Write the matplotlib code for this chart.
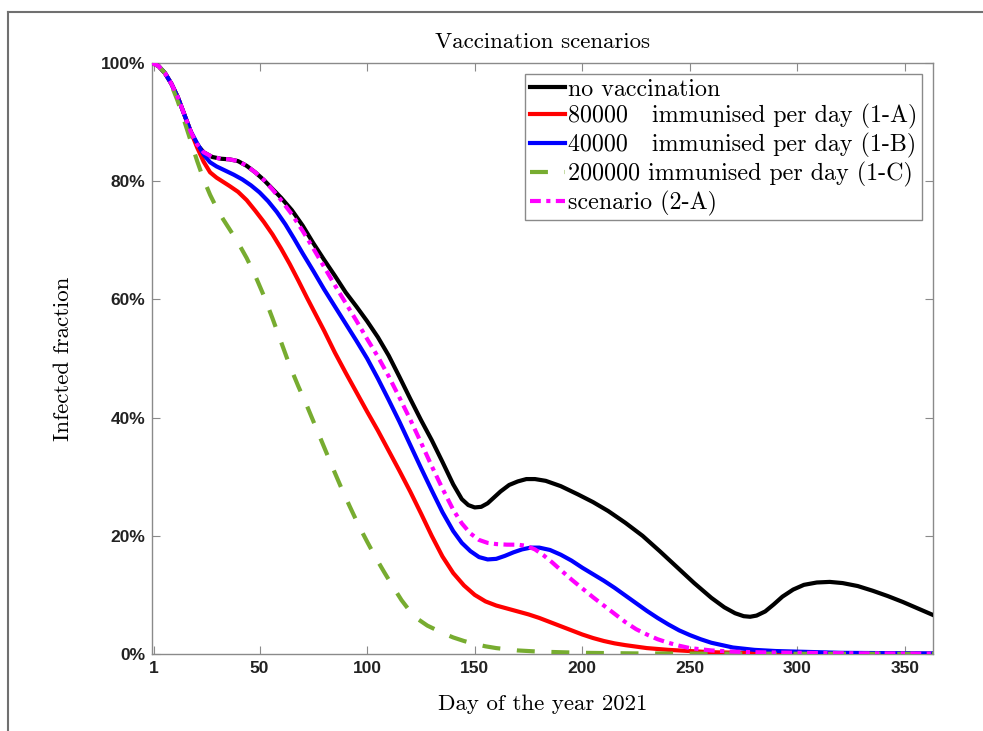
import matplotlib
matplotlib.use("Agg")
import matplotlib.pyplot as plt
from matplotlib.lines import Line2D
from matplotlib.ticker import FuncFormatter

# ---------------- data ----------------
day_black = [0, 3, 6, 9, 12, 15, 18, 21, 24, 28, 32, 36, 40, 44, 48, 52, 56, 60, 65, 70, 75,
             80, 85, 90, 95, 100, 105, 110, 115, 120, 125, 130, 135, 140, 144, 147, 150, 153,
             156, 159, 162, 166, 170, 174, 178, 183, 190, 198, 205, 212, 220, 228, 236, 244,
             252, 260, 266, 271, 275, 278, 281, 285, 289, 293, 298, 303, 309, 315, 321, 328,
             335, 342, 349, 356, 363]
val_black = [1.0, 0.995, 0.983, 0.965, 0.942, 0.913, 0.884, 0.862, 0.849, 0.841, 0.838, 0.837,
             0.834, 0.826, 0.815, 0.802, 0.787, 0.772, 0.751, 0.725, 0.695, 0.667, 0.640, 0.612,
             0.588, 0.563, 0.536, 0.505, 0.469, 0.432, 0.396, 0.362, 0.325, 0.287, 0.262, 0.252,
             0.248, 0.249, 0.255, 0.265, 0.275, 0.286, 0.292, 0.296, 0.296, 0.293, 0.284, 0.270,
             0.257, 0.242, 0.222, 0.200, 0.174, 0.147, 0.120, 0.095, 0.079, 0.069, 0.064, 0.063,
             0.065, 0.072, 0.084, 0.097, 0.109, 0.117, 0.121, 0.122, 0.120, 0.115, 0.107, 0.098,
             0.088, 0.077, 0.066]

day_red = [0, 3, 6, 9, 12, 15, 18, 21, 24, 27, 30, 33, 36, 40, 44, 48, 52, 56, 60, 64, 68, 72,
           76, 80, 85, 90, 95, 100, 105, 110, 115, 120, 125, 130, 135, 140, 145, 150, 155, 160,
           165, 170, 175, 180, 185, 190, 195, 200, 205, 210, 215, 220, 230, 240, 250, 260, 280,
           300, 330, 363]
val_red = [1.0, 0.995, 0.983, 0.965, 0.942, 0.913, 0.884, 0.857, 0.833, 0.815, 0.806, 0.799,
           0.792, 0.782, 0.768, 0.750, 0.731, 0.710, 0.686, 0.660, 0.632, 0.603, 0.575, 0.547,
           0.510, 0.476, 0.443, 0.410, 0.378, 0.344, 0.310, 0.275, 0.238, 0.200, 0.165, 0.137,
           0.116, 0.100, 0.089, 0.082, 0.077, 0.072, 0.067, 0.061, 0.054, 0.047, 0.040, 0.033,
           0.027, 0.022, 0.018, 0.015, 0.010, 0.007, 0.005, 0.003, 0.0015, 0.001, 0.0005, 0.0003]

day_blue = [0, 3, 6, 9, 12, 15, 18, 21, 24, 27, 30, 34, 38, 42, 46, 50, 54, 58, 62, 66, 70, 75,
            80, 85, 90, 95, 100, 105, 110, 115, 120, 125, 130, 135, 140, 144, 148, 152, 156,
            160, 164, 168, 172, 176, 180, 185, 190, 195, 200, 205, 210, 215, 220, 225, 230,
            235, 240, 245, 250, 255, 260, 265, 270, 280, 290, 300, 320, 340, 363]
val_blue = [1.0, 0.995, 0.983, 0.965, 0.942, 0.913, 0.884, 0.864, 0.845, 0.832, 0.825, 0.818,
            0.811, 0.803, 0.793, 0.781, 0.766, 0.748, 0.727, 0.703, 0.678, 0.648, 0.617, 0.588,
            0.559, 0.530, 0.500, 0.466, 0.430, 0.393, 0.354, 0.315, 0.277, 0.240, 0.208, 0.188,
            0.174, 0.164, 0.160, 0.161, 0.166, 0.172, 0.177, 0.180, 0.180, 0.176, 0.168, 0.158,
            0.146, 0.135, 0.124, 0.112, 0.099, 0.086, 0.073, 0.061, 0.050, 0.040, 0.032, 0.025,
            0.019, 0.015, 0.011, 0.007, 0.005, 0.004, 0.002, 0.0015, 0.001]

day_green = [0, 3, 6, 9, 12, 15, 18, 21, 24, 27, 30, 33, 36, 40, 44, 48, 52, 56, 60, 64, 68,
             72, 76, 80, 84, 88, 92, 96, 100, 104, 108, 112, 116, 120, 124, 128, 132, 136, 140,
             145, 150, 155, 160, 165, 170, 180, 190, 200, 225, 250, 300, 363]
val_green = [1.0, 0.995, 0.983, 0.963, 0.935, 0.902, 0.868, 0.834, 0.803, 0.777, 0.755, 0.736,
             0.719, 0.696, 0.670, 0.640, 0.606, 0.568, 0.528, 0.488, 0.453, 0.420, 0.385, 0.350,
             0.315, 0.281, 0.249, 0.218, 0.190, 0.163, 0.138, 0.114, 0.091, 0.072, 0.058, 0.048,
             0.041, 0.034, 0.028, 0.022, 0.017, 0.013, 0.010, 0.008, 0.006, 0.004, 0.003, 0.002,
             0.001, 0.0007, 0.0004, 0.0002]

day_mag = [0, 3, 6, 9, 12, 15, 18, 21, 24, 28, 32, 36, 40, 44, 48, 52, 56, 60, 65, 70, 75, 80,
           85, 90, 95, 100, 105, 110, 115, 120, 125, 130, 135, 140, 144, 148, 152, 156, 160,
           165, 170, 174, 178, 182, 186, 190, 195, 200, 205, 210, 215, 220, 225, 230, 235, 240,
           245, 250, 255, 260, 270, 280, 300, 330, 363]
val_mag = [1.0, 0.995, 0.983, 0.965, 0.942, 0.913, 0.884, 0.862, 0.849, 0.841, 0.838, 0.837,
           0.834, 0.826, 0.815, 0.802, 0.786, 0.768, 0.744, 0.716, 0.686, 0.655, 0.624, 0.594,
           0.564, 0.533, 0.503, 0.470, 0.434, 0.397, 0.358, 0.318, 0.280, 0.244, 0.221, 0.204,
           0.193, 0.188, 0.186, 0.185, 0.185, 0.183, 0.177, 0.167, 0.155, 0.142, 0.126, 0.111,
           0.096, 0.082, 0.068, 0.054, 0.042, 0.033, 0.025, 0.019, 0.014, 0.010, 0.008, 0.006,
           0.004, 0.003, 0.002, 0.001, 0.0005]

labels = ["no vaccination",
          "80000   immunised per day (1-A)",
          "40000   immunised per day (1-B)",
          "200000 immunised per day (1-C)",
          "scenario (2-A)"]
xticks = [1, 50, 100, 150, 200, 250, 300, 350]
yticks = [0, 0.2, 0.4, 0.6, 0.8, 1.0]

title_text = "Vaccination scenarios"
xlabel_text = "Day of the year 2021"
ylabel_text = "Infected fraction"

# ---------------- styling ----------------
serif = ["cmr10", "DejaVu Serif"]
tick_family = ["Liberation Sans"]

fig = plt.figure(figsize=(9.83, 7.31), dpi=100)
ax = fig.add_axes([152 / 983, 1 - 654 / 731, (933 - 152) / 983, (654 - 63) / 731])

lw = 3.0
ax.plot(day_black, val_black, color="black", lw=lw, label=labels[0], zorder=3,
        solid_joinstyle="round")
ax.plot(day_red, val_red, color="#ff0000", lw=lw, label=labels[1], zorder=3,
        solid_joinstyle="round")
ax.plot(day_blue, val_blue, color="#0000ff", lw=lw, label=labels[2], zorder=3,
        solid_joinstyle="round")
ax.plot(day_green, val_green, color="#77ac30", lw=lw, ls=(0, (4.3, 4.0)), label=labels[3],
        zorder=4)
ax.plot(day_mag, val_mag, color="#ff00ff", lw=lw, ls=(0, (2.6, 1.3, 1.0, 1.3)),
        label=labels[4], zorder=5)

ax.set_xlim(0, 363)
ax.set_ylim(0, 1)
ax.set_xticks(xticks)
ax.set_yticks(yticks)
ax.yaxis.set_major_formatter(FuncFormatter(lambda v, p: f"{int(round(v * 100))}%"))

for s in ax.spines.values():
    s.set_color("#8a8a8a")
    s.set_linewidth(1.0)
ax.tick_params(direction="in", length=6, width=0.8, color="#8a8a8a",
               top=True, right=True, labelsize=12.5, labelcolor="#222222", pad=5)
for lab in ax.get_xticklabels() + ax.get_yticklabels():
    lab.set_fontfamily(tick_family)
    lab.set_fontweight("bold")

ax.set_title(title_text, fontfamily=serif, fontsize=16.5, pad=11)
ax.set_xlabel(xlabel_text, fontfamily=serif, fontsize=16.5, labelpad=13)
ax.set_ylabel(ylabel_text, fontfamily=serif, fontsize=16.5, labelpad=20)

leg = ax.legend(loc="upper right", prop={"family": serif, "size": 17.3},
                handlelength=1.45, handletextpad=0.12, labelspacing=0.15,
                borderpad=0.2, borderaxespad=0.45, fancybox=False, framealpha=1,
                edgecolor="#8a8a8a")
leg.get_frame().set_linewidth(1.0)

# outer frame of the picture
fig.add_artist(Line2D([8 / 983, 1.0], [1 - 12 / 731, 1 - 12 / 731], transform=fig.transFigure,
                      color="#707070", lw=1.5))
fig.add_artist(Line2D([8 / 983, 8 / 983], [0.0, 1 - 12 / 731], transform=fig.transFigure,
                      color="#707070", lw=1.5))

fig.savefig("out.png", dpi=100)
